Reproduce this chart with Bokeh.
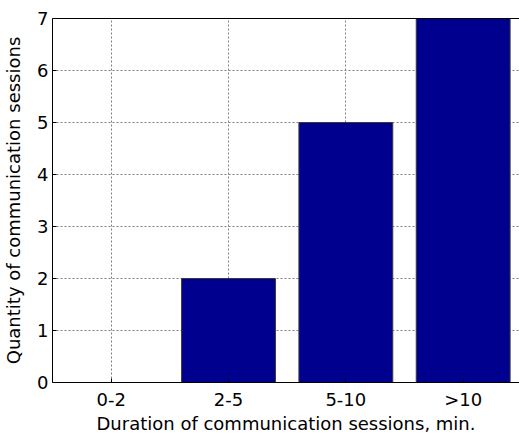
from bokeh.plotting import figure
from bokeh.models import LinearAxis, FixedTicker, Range1d, ColumnDataSource, Grid
from bokeh.embed import file_html
from bokeh.resources import INLINE

categories = ["0-2", "2-5", "5-10", ">10"]
sessions = [0, 2, 5, 7]
y_ticks = [0, 1, 2, 3, 4, 5, 6, 7]

xs = [i + 1 for i in range(len(categories))]
src = ColumnDataSource(dict(x=xs, top=sessions))

FONT = "DejaVu Sans"

p = figure(width=519, height=436, output_backend="svg", toolbar_location=None,
           x_range=Range1d(0.5, 4.48), y_range=Range1d(0, 7),
           min_border_left=52, min_border_right=0, min_border_top=18, min_border_bottom=53,
           x_axis_type=None, y_axis_type=None)
p.outline_line_color = None
p.background_fill_color = "white"
p.border_fill_color = "white"

p.vbar(x="x", top="top", width=0.8, bottom=0, source=src,
       fill_color="#00008F", line_color="#3a3a3a", line_width=1)

xaxis = LinearAxis(ticker=FixedTicker(ticks=xs),
                   major_label_overrides={x: c for x, c in zip(xs, categories)},
                   axis_label="Duration of communication sessions, min.")
yaxis = LinearAxis(ticker=FixedTicker(ticks=y_ticks),
                   axis_label="Quantity of communication sessions")
top_axis = LinearAxis(ticker=FixedTicker(ticks=xs), major_label_text_font_size="0px",
                      major_tick_in=0, major_tick_out=0)
top_axis.major_label_text_alpha = 0
top_axis.axis_line_color = "black"

for ax in (xaxis, yaxis):
    ax.axis_line_color = "black"
    ax.axis_line_width = 1
    ax.major_tick_in = 4
    ax.major_tick_out = 0
    ax.minor_tick_line_color = None
    ax.major_tick_line_color = "black"
    ax.major_label_text_font = FONT
    ax.major_label_text_font_size = "18px"
    ax.major_label_text_color = "black"
    ax.axis_label_text_font = FONT
    ax.axis_label_text_font_size = "18px"
    ax.axis_label_text_font_style = "normal"
    ax.axis_label_text_color = "black"

xaxis.major_label_standoff = 6
xaxis.axis_label_standoff = 0
yaxis.major_label_standoff = 4
yaxis.axis_label_standoff = 10

p.add_layout(xaxis, "below")
p.add_layout(yaxis, "left")
p.add_layout(top_axis, "above")

xg = Grid(dimension=0, ticker=xaxis.ticker, grid_line_color="#808080",
          grid_line_dash="2 2", grid_line_width=1)
yg = Grid(dimension=1, ticker=yaxis.ticker, grid_line_color="#808080",
          grid_line_dash="2 2", grid_line_width=1)
xg.level = "underlay"
yg.level = "underlay"
p.add_layout(xg)
p.add_layout(yg)

open("out.html", "w").write(file_html(p, INLINE))
